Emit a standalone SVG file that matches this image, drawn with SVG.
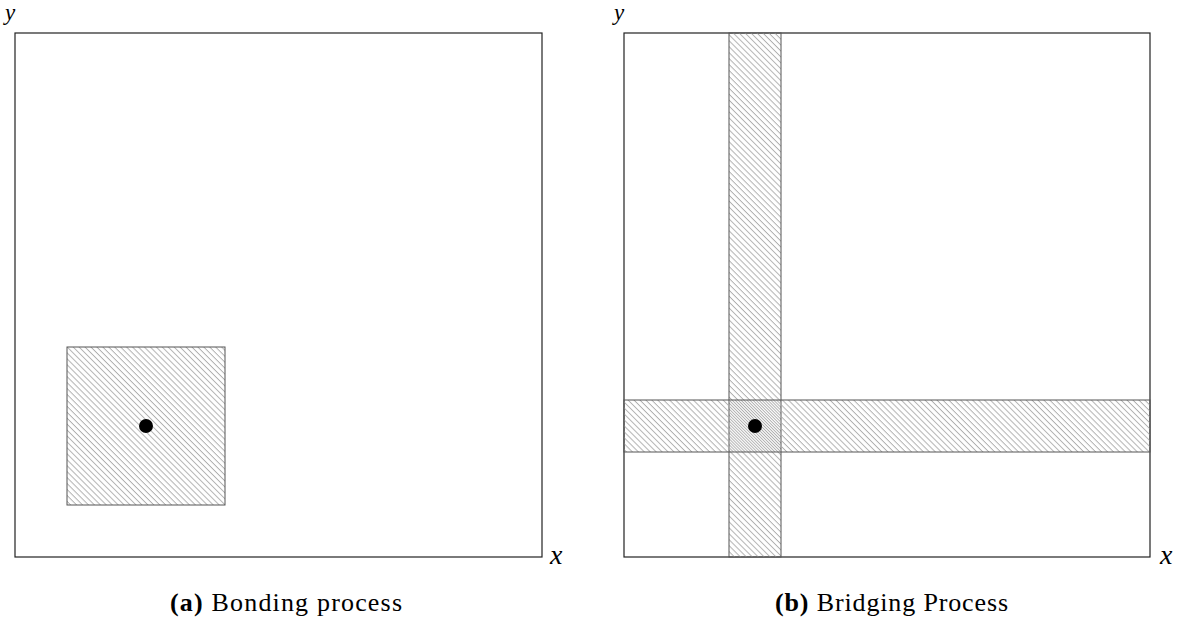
<svg xmlns="http://www.w3.org/2000/svg" width="1187" height="623" viewBox="0 0 1187 623">
<style>
.frame{fill:none;stroke:#222;stroke-width:1.2}
.box{stroke:#555;stroke-width:1}
.lab{font-family:"Liberation Serif","DejaVu Serif",serif;font-style:italic;font-size:28px;fill:#000}
.laby{font-family:"Liberation Serif","DejaVu Serif",serif;font-style:italic;font-size:23px;fill:#000}
.cap{font-family:"Liberation Serif","DejaVu Serif",serif;font-size:26px;fill:#000}
.dot{fill:#000}
</style>
<defs>
<pattern id="hatch" patternUnits="userSpaceOnUse" width="10" height="4.2" patternTransform="rotate(45)">
<line x1="0" y1="0.5" x2="10" y2="0.5" stroke="#aaa" stroke-width="0.9"/>
</pattern>
<pattern id="hatch2" patternUnits="userSpaceOnUse" width="10" height="4.2" patternTransform="rotate(45) translate(0 2.1)">
<line x1="0" y1="0.5" x2="10" y2="0.5" stroke="#aaa" stroke-width="0.9"/>
</pattern>
</defs>
<g id="panel-a">
<rect class="frame" x="15" y="33" width="527" height="524"/>
<text class="laby" x="5" y="20">y</text>
<text class="lab" x="550" y="564">x</text>
<g id="bond-square">
<rect class="box" x="67" y="347" width="158" height="158" fill="url(#hatch)"/>
</g>
<circle id="dot-a" class="dot" cx="146" cy="426" r="7"/>
<text class="cap" x="170" y="611" textLength="232" lengthAdjust="spacing"><tspan font-weight="bold">(a)</tspan> Bonding process</text>
</g>
<g id="panel-b">
<rect class="frame" x="624" y="33" width="526" height="524"/>
<text class="laby" x="614" y="20">y</text>
<text class="lab" x="1160" y="564">x</text>
<g id="vertical-strip">
<rect class="box" x="729" y="33" width="52" height="524" fill="url(#hatch)"/>
</g>
<g id="horizontal-strip">
<rect class="box" x="624" y="400" width="526" height="52" fill="url(#hatch2)"/>
</g>
<circle id="dot-b" class="dot" cx="755" cy="426" r="7"/>
<text class="cap" x="775" y="611" textLength="233" lengthAdjust="spacing"><tspan font-weight="bold">(b)</tspan> Bridging Process</text>
</g>
</svg>
